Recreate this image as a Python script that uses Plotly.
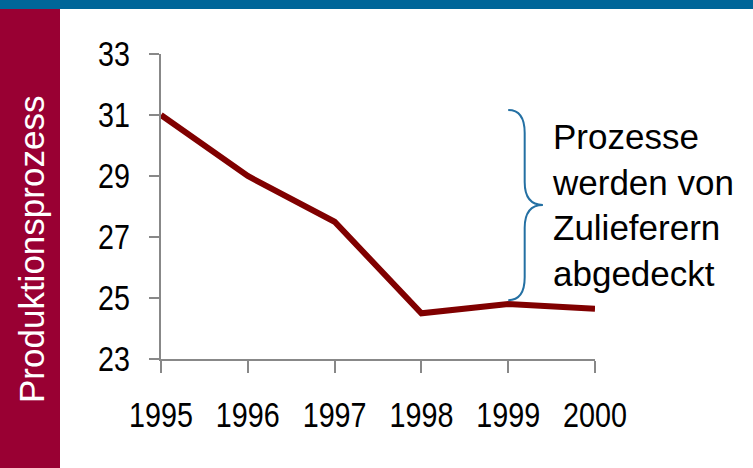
import plotly.graph_objects as go

years = [1995, 1996, 1997, 1998, 1999, 2000]
values = [31.0, 29.0, 27.5, 24.5, 24.8, 24.65]
y_ticks = [23, 25, 27, 29, 31, 33]
side_label = "Produktionsprozess"
note_text = "Prozesse<br>werden von<br>Zulieferern<br>abgedeckt"

W, H = 753, 468
L, R, T, B = 161, 158, 54, 109
pw, ph = W - L - R, H - T - B

def px_x(p):
    return (p - L) / pw

def px_y(p):
    return 1 - (p - T) / ph

fig = go.Figure()
fig.add_trace(go.Scatter(x=years, y=values, mode="lines",
                         line=dict(color="#800000", width=6), hoverinfo="skip"))

# brace (data coords)
x0, xv, xt = 1999.0, 1999.19, 1999.40
yt, ym, yb, r = 31.16, 28.05, 24.93, 0.75
path = (f"M {x0},{yt} Q {xv},{yt} {xv},{yt - r} L {xv},{ym + r} "
        f"Q {xv},{ym} {xt},{ym} Q {xv},{ym} {xv},{ym - r} "
        f"L {xv},{yb + r} Q {xv},{yb} {x0},{yb}")
fig.add_shape(type="path", path=path, xref="x", yref="y",
              line=dict(color="#2470a3", width=2))

# top bar and side bar
fig.add_shape(type="rect", xref="paper", yref="paper",
              x0=px_x(0), x1=px_x(W), y0=px_y(0), y1=px_y(9),
              fillcolor="#006699", line_width=0, layer="below")
fig.add_shape(type="rect", xref="paper", yref="paper",
              x0=px_x(0), x1=px_x(60), y0=px_y(9), y1=px_y(H),
              fillcolor="#990033", line_width=0, layer="below")

fig.add_annotation(text=side_label, xref="paper", yref="paper",
                   x=px_x(31), y=px_y(250), xanchor="center", yanchor="middle",
                   textangle=-90, showarrow=False,
                   font=dict(family="Liberation Sans, Arial, sans-serif", size=35, color="white"))

fig.add_annotation(text=note_text, xref="x", yref="y", x=1999.48, y=28.05,
                   xanchor="left", yanchor="middle", align="left", showarrow=False,
                   font=dict(family="Liberation Sans, Arial, sans-serif", size=35, color="black"))

tick_font = dict(family="Liberation Sans Narrow, Arial Narrow, Liberation Sans, sans-serif",
                 size=35, color="black")
fig.update_xaxes(range=[1995, 2000], tickvals=years, ticktext=[str(y) for y in years],
                 showgrid=False, zeroline=False, showline=True, linecolor="#888888",
                 linewidth=2, ticks="outside", ticklen=12, tickwidth=2, tickcolor="#888888",
                 tickfont=tick_font, ticklabelstandoff=12)
fig.update_yaxes(range=[23, 33], tickvals=y_ticks, showgrid=False, zeroline=False,
                 showline=True, linecolor="#888888", linewidth=2, ticks="outside",
                 ticklen=10, tickwidth=2, tickcolor="#888888", tickfont=tick_font,
                 ticklabelstandoff=12)
fig.update_layout(width=W, height=H, margin=dict(l=L, r=R, t=T, b=B),
                  paper_bgcolor="white", plot_bgcolor="white", showlegend=False)

post = """
document.body.style.margin = '0';
var gd = document.getElementById('{plot_id}');
function squeeze() {
  gd.querySelectorAll('.xtick text, .ytick text').forEach(function (t) {
    if (!t.getAttribute('lengthAdjust')) {
      var w = t.getComputedTextLength();
      t.setAttribute('textLength', (w * 0.82).toFixed(1));
      t.setAttribute('lengthAdjust', 'spacingAndGlyphs');
    }
  });
}
squeeze();
gd.on('plotly_afterplot', squeeze);
"""
fig.write_html("out.html", post_script=post, config={"displayModeBar": False})
